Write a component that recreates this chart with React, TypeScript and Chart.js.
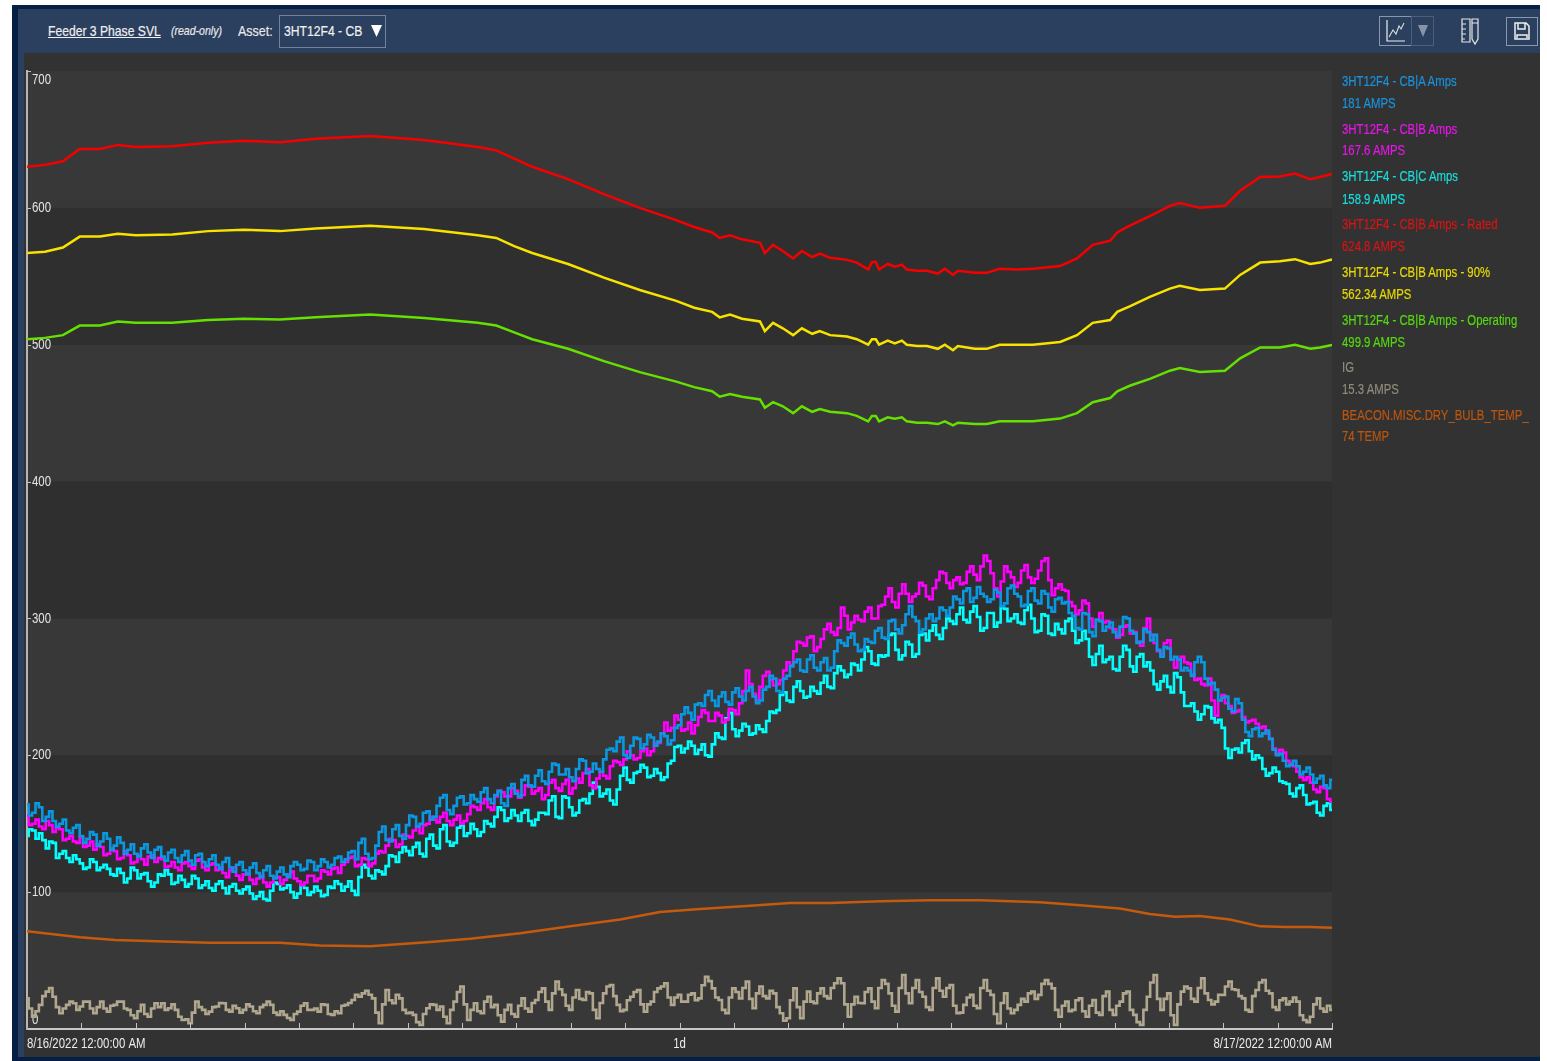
import React, { useEffect, useRef } from "react";
import { Chart, registerables } from "chart.js";

Chart.register(...registerables);

const xTickHours = [0, 12, 24];
const xTickLabels = ["8/16/2022 12:00:00 AM", "1d", "8/17/2022 12:00:00 AM"];
const yBands = [0, 100, 200, 300, 400, 500, 600, 700];

const limitHours = [0,.33,.66,.97,1.34,1.67,2,2.67,3.33,3.99,4.65,5.31,6.31,7.3,8.29,8.63,8.96,9.29,9.95,10.61,11.27,11.94,12.27,12.6,12.74,12.93,13.15,13.48,13.57,13.72,13.9,14.09,14.25,14.44,14.58,14.77,15.08,15.26,15.47,15.54,15.61,15.67,15.83,15.96,16.09,16.18,16.37,16.55,16.75,16.88,17.03,17.12,17.43,17.65,17.89,18.21,18.5,19,19.31,19.6,19.92,20.05,20.28,20.65,21.02,21.2,21.57,22.03,22.31,22.68,23.04,23.32,23.6,23.78,24];
const ratedAmps = [630,631.4,634,643,643,646,644.5,645,647.5,649,648,650.5,652.5,649.5,644.5,642,636,630,621,610,600,591,586,582,578,580,577,574.5,567,573,568.5,563,568.5,564,566.5,563.5,562,560,555,560.5,560.5,555,559,557,558.5,555,554,554,552,555.5,551,554,552.5,552.5,555.5,555,555.5,557.5,563,573,576,582,587,594,601.5,603.5,600,601.5,612.5,622.5,623,625,621,622.5,624.8];
const ninetyAmps = [567,568,571,579,579,581,580,580.5,583,584,583,585,587,584.5,580,578,572,567,559,549,540,532,527,524,520,522,519,517,510,516,512,507,512,508,510,507,506,504,500,504,504,500,503,501,503,500,499,499,497,500,496,499,497,497,500,500,500,502,507,516,518,524,528,535,541,543,540,541,551,560,561,562.5,559,560,562.34];
const operatingAmps = [504,505,507,514,514,517,516,516,518,519,518.5,520,522,519.5,516,514,509,504,497,488,480,473,469,466,462,464,462,460,454,458,455,450,455,451,453,451,450,448,444,448,448,444,447,446,447,444,443,443,442,444,441,443,442,442,444,444,444,446,450,458,461,466,470,475,481,483,480,481,490,498,498,500,497,498,499.9];

const tempHours = [0,.97,1.62,2.54,3.37,4.65,5.39,6.31,7.41,8.15,9.07,9.99,10.91,11.64,12.38,13.3,14.03,14.77,15.69,16.61,17.53,18.63,19.37,20.1,20.65,21.11,21.57,22.12,22.68,23.14,23.6,24];
const dryBulbTemp = [71.5,67,65,64,63,63,61,60.5,63.5,66,70,75,80,85.5,87.6,90,92,92,93.4,94,94,92.7,90.5,88,84,82,82.5,80,75,74.5,74.5,74];

const sampleStepHours = 0.125;
const phaseA = [164,158,162,155,152,150,145,147,141,139,142,137,139,134,136,131,128,132,129,131,126,129,125,127,123,127,122,124,120,122,118,120,116,118,114,116,112,115,113,119,120,117,122,119,122,120,126,124,130,136,128,125,144,138,146,141,149,155,150,159,155,169,160,163,170,165,168,173,168,171,165,176,172,182,178,185,181,188,193,186,184,190,196,188,190,197,205,210,200,207,212,208,213,210,214,211,222,235,226,238,244,240,243,239,246,243,247,243,240,250,256,246,258,268,262,270,264,268,262,276,282,286,281,277,283,291,286,298,292,295,309,298,292,303,300,306,308,314,320,312,323,316,314,319,311,324,316,310,322,311,318,305,315,312,302,292,303,287,298,294,290,294,300,289,283,290,288,272,278,272,262,262,268,268,252,248,242,234,241,226,214,220,216,212,200,196,193,192,188,186,183,178,182];
const phaseAHalf = [
  156,165,152,159,148,153,143,149,136,144,
  134,143,131,140,128,135,126,135,125,133,
  123,131,122,130,120,128,119,127,117,125,
  115,122,113,121,111,119,110,118,111,122,
  116,123,116,124,118,125,122,129,124,139,
  124,134,148,137,149,139,156,148,158,153,
  163,171,157,169,164,171,166,176,165,174,
  163,179,170,185,177,189,179,194,186,190,
  181,197,187,194,188,204,203,213,198,213,
  205,215,207,216,208,220,230,231,237,236,
  247,236,246,237,249,240,250,238,248,258,
  247,256,265,270,261,273,262,271,264,284,
  280,289,276,285,282,293,285,299,289,303,
  301,290,300,298,308,302,316,311,322,315,
  318,312,321,309,322,318,309,320,313,320,
  308,314,311,304,293,304,290,299,291,297,
  287,301,291,282,292,284,277,279,270,270,
  264,258,272,256,253,240,243,232,238,217,
  219,214,218,204,201,192,196,186,191,180,185,176,
];
const phaseB = [156,150,148,152,144,146,139,137,140,134,131,133,128,130,125,127,122,124,126,122,124,119,118,121,119,123,118,120,116,114,116,112,113,109,110,107,107,111,109,115,108,107,112,110,115,117,114,122,126,120,124,121,130,134,138,135,141,145,143,150,153,155,152,153,150,157,162,165,162,170,173,170,174,171,177,174,168,180,176,179,172,183,187,178,183,185,192,195,197,200,198,205,203,209,224,220,226,219,216,228,231,225,229,226,233,238,262,245,250,261,251,255,268,276,282,286,276,285,296,288,308,292,302,298,308,300,310,322,308,325,312,318,324,314,328,333,322,330,326,338,328,346,333,316,338,330,326,339,326,335,344,317,325,320,309,306,311,294,304,298,292,288,295,290,280,300,282,274,284,264,272,267,255,252,256,229,244,236,232,228,225,223,221,212,201,202,194,188,182,180,173,176,166];
const phaseBHalf = [
  149,153,146,149,147,138,141,136,133,137,
  135,127,132,124,130,121,127,120,127,125,
  118,122,116,122,117,124,116,121,118,111,
  118,109,114,106,112,104,111,106,113,110,
  105,112,108,116,113,118,120,125,119,125,
  119,128,129,139,133,142,140,148,149,155,
  151,158,149,156,152,163,160,168,160,174,
  170,176,169,178,172,176,171,182,174,182,
  176,180,190,176,188,183,196,193,203,197,
  203,200,209,216,218,229,218,224,222,233,
  225,231,224,234,230,247,252,240,258,255,
  252,262,266,283,280,287,279,292,290,293,
  302,297,299,305,300,309,316,312,318,318,
  316,326,316,322,334,326,328,325,334,332,
  338,342,322,327,334,323,335,330,329,342,
  328,322,321,312,303,313,300,299,297,293,
  286,294,289,283,293,288,276,282,270,270,
  268,259,256,251,240,240,238,231,233,224,
  226,220,216,205,204,196,192,184,184,175,177,168,
];
const phaseC = [141,145,143,132,136,128,125,127,121,118,122,118,117,112,114,110,116,113,108,107,112,113,107,109,106,110,105,103,106,103,104,101,102,99,97,95,101,106,103,100,99,103,100,101,98,103,106,104,101,111,118,110,115,119,126,129,130,133,128,139,134,146,137,136,149,143,146,144,150,155,160,154,156,158,152,153,158,167,155,170,162,158,168,172,177,172,167,175,191,180,188,191,185,187,184,196,207,205,207,204,200,208,213,227,219,218,221,216,219,225,231,244,240,250,247,243,247,253,250,260,262,259,266,270,276,266,272,288,277,273,281,274,289,291,288,293,298,303,299,305,301,293,304,297,307,300,297,306,300,291,302,288,292,298,291,284,285,266,280,270,263,272,277,261,274,268,252,254,250,260,246,236,232,230,235,224,220,198,205,209,203,200,190,187,188,180,172,176,171,165,158,163,160];
const phaseCHalf = [
  146,139,138,137,125,130,122,124,117,124,
  116,120,113,117,107,118,110,114,104,113,
  116,106,112,104,112,103,108,101,108,99,
  106,99,104,95,100,94,107,102,105,96,
  105,98,104,97,104,108,101,108,98,120,
  112,116,113,127,122,133,127,136,126,142,
  132,149,134,147,141,150,141,152,148,162,
  152,160,152,160,149,158,157,170,154,169,
  156,167,165,180,170,175,164,185,182,187,
  193,184,190,182,194,206,202,210,201,208,
  199,216,212,231,214,223,215,222,217,232,
  233,246,239,254,242,250,245,258,249,265,
  257,267,262,279,267,273,273,289,270,283,
  272,288,284,295,285,300,296,308,297,309,
  291,304,294,308,298,303,296,310,290,303,
  289,296,289,300,282,291,272,274,268,272,
  262,280,265,272,265,262,248,258,246,257,
  236,238,226,236,227,226,205,204,202,211,
  197,198,185,191,181,179,170,178,164,166,156,165,
];
const groundAmps = [22.4,9,17.6,27.3,23.6,11.5,17.6,18.8,16.4,20,11.5,20,12.7,17.6,20,14,7.9,17.6,9,18.8,18.8,15.2,14,6.6,4.2,20,14,12.7,16.4,18.8,12.7,15.2,14,16.4,11.5,17.6,17.6,10.3,10.3,6.6,12.7,18.8,14,12.7,17.6,10.3,11.5,17.6,21.2,23.6,28,22.4,4.2,28.5,18.8,22.4,11.5,10.3,3,15.2,17.6,16.4,4.2,20,31,6.6,18.8,11.5,23.6,17.6,5.4,17.6,9,22.4,12.7,21.2,29.7,14,34.6,24.9,14,28.5,21.2,26,7.9,26,32.2,17.6,14,23.6,28.5,12.7,20,29.7,33.4,17.6,24.9,20,26,22.4,38.2,29.7,21.2,11.5,29.7,22.4,34.6,15.2,31,22.4,26,11.5,7.9,29.7,7.9,27.3,18.8,29.7,22.4,33.4,33.4,9,23.6,18.8,29.7,15.2,35.8,26,12.7,39.5,18.8,35.8,23.6,14,37,23.6,32.2,11.5,17.6,24.9,15.2,35.8,24.9,4.2,26,11.5,17.6,20,27.3,24.9,35.8,29.7,9,20,14,22.4,9,21.2,10.3,27.3,10.3,20,27.3,10.3,3,23.6,39.5,14,26,3,27.3,29.7,20,37,21.2,20,24.9,34.6,28.5,22.4,12.7,28.5,35.8,26,14,22.4,20,20,6.6,9,22.4,12.7,14];
const groundAmpsHalf = [
  15,13,24,30,16,15,20,14,20,15,
  16,15,17,20,15,10,13,11,15,16,
  14,18,9,7,12,16,11,16,19,14,
  17,12,18,13,16,20,12,13,8,11,
  17,14,15,18,11,13,17,19,25,26,
  25,12,18,21,25,14,12,5,11,18,
  14,9,14,27,18,14,13,20,16,10,
  14,11,17,15,19,27,20,26,29,17,
  23,22,27,14,19,31,24,13,21,27,
  18,18,27,31,23,23,20,25,21,32,
  35,23,14,23,27,30,22,26,24,28,
  16,6,21,16,20,20,26,24,30,37,
  18,18,19,27,20,30,33,17,30,26,
  30,27,16,30,28,30,17,12,23,17,
  30,28,11,19,15,14,22,26,22,33,
  33,14,17,13,21,13,17,12,24,14,
  17,26,14,5,14,34,22,22,10,18,
  31,22,30,26,18,25,31,29,24,14,
  24,34,28,16,21,18,23,10,5,18,15,17,
];

const legendNames = ["3HT12F4 - CB|A Amps","3HT12F4 - CB|B Amps","3HT12F4 - CB|C Amps","3HT12F4 - CB|B Amps - Rated","3HT12F4 - CB|B Amps - 90%","3HT12F4 - CB|B Amps - Operating","IG","BEACON.MISC.DRY_BULB_TEMP_"];
const legendValues = ["181 AMPS","167.6 AMPS","158.9 AMPS","624.8 AMPS","562.34 AMPS","499.9 AMPS","15.3 AMPS","74 TEMP"];
const legendColors = ["#1a93dc","#e815e8","#18dede","#d81414","#e8da00","#55d810","#8f8b7c","#bb5610"];
const legendTops = [81,129,176,224,272,320,367,415];
const legendBottoms = [103,150,199,246,294,342,389,436];

const FONT = '"Liberation Sans", Arial, sans-serif';
const CANVAS_TEXT_SQUEEZE = 0.76;

const sampled = (values: number[], halves: number[]) =>
  [
    ...values.map((y, i) => ({ x: i * sampleStepHours, y })),
    ...halves.map((y, i) => ({ x: (i + 0.5) * sampleStepHours, y })),
  ].sort((a, b) => a.x - b.x);
const paired = (hours: number[], values: number[]) => values.map((y, i) => ({ x: hours[i], y }));

const frameworkPlugin = {
  id: "framework",
  beforeDraw(chart: any) {
    const { ctx, chartArea: a, scales } = chart;
    if (!ctx.__squeezed) {
      const original = ctx.fillText.bind(ctx);
      ctx.fillText = (t: string, x: number, y: number) => original(t, x, y, Math.max(1, ctx.measureText(t).width * CANVAS_TEXT_SQUEEZE));
      ctx.__squeezed = true;
    }
    const y = scales.y;
    ctx.save();
    for (let i = 0; i < yBands.length - 1; i++) {
      ctx.fillStyle = i % 2 === 0 ? "#383838" : "#2f2f2f";
      const top = y.getPixelForValue(yBands[i + 1]);
      const bottom = y.getPixelForValue(yBands[i]);
      ctx.fillRect(a.left, top, a.right - a.left, bottom - top);
    }
    ctx.restore();
  },
  afterDraw(chart: any) {
    const { ctx, chartArea: a, scales } = chart;
    ctx.save();
    ctx.strokeStyle = "#c4c4c4";
    ctx.lineWidth = 1;
    scales.x.ticks.forEach((t: any) => {
      const px = Math.round(scales.x.getPixelForValue(t.value)) + 0.5;
      if (t.value === 0) return;
      ctx.beginPath();
      ctx.moveTo(px, a.bottom - 6);
      ctx.lineTo(px, a.bottom);
      ctx.stroke();
    });
    scales.y.ticks.forEach((t: any) => {
      if (t.value === 0) return;
      const py = Math.round(scales.y.getPixelForValue(t.value)) + 0.5;
      ctx.beginPath();
      ctx.moveTo(a.left, py);
      ctx.lineTo(a.left + 4, py);
      ctx.stroke();
    });
    ctx.restore();
  },
};

export default function App() {
  const ref = useRef<HTMLCanvasElement>(null);
  useEffect(() => {
    const line = (label: string, data: any[], color: string, width: number, stepped: any = false) => ({
      label, data, borderColor: color, backgroundColor: color, borderWidth: width,
      pointRadius: 0, tension: 0, stepped, borderJoinStyle: "miter" as const,
    });
    const chart = new Chart(ref.current!, {
      type: "line",
      plugins: [frameworkPlugin],
      data: {
        datasets: [
          line(legendNames[0], sampled(phaseA, phaseAHalf), "#0a98e2", 2.6, "middle"),
          line(legendNames[1], sampled(phaseB, phaseBHalf), "#ff00ff", 2.6, "middle"),
          line(legendNames[2], sampled(phaseC, phaseCHalf), "#00ffff", 2.6, "middle"),
          line(legendNames[3], paired(limitHours, ratedAmps), "#f50000", 2.5),
          line(legendNames[4], paired(limitHours, ninetyAmps), "#f7e200", 2.5),
          line(legendNames[5], paired(limitHours, operatingAmps), "#66e000", 2.5),
          line(legendNames[6], sampled(groundAmps, groundAmpsHalf), "#b0a78e", 2.6, "middle"),
          line(legendNames[7], paired(tempHours, dryBulbTemp), "#c55a0c", 2.5),
        ],
      },
      options: {
        animation: false,
        responsive: false,
        devicePixelRatio: 1,
        parsing: false,
        normalized: true,
        layout: { padding: { left: 27, top: 71, right: 215, bottom: 0 } },
        plugins: { legend: { display: false }, tooltip: { enabled: false } },
        scales: {
          x: {
            type: "linear", min: 0, max: 24,
            grid: { display: false, drawTicks: false },
            border: { display: true, color: "#c8c8c8", width: 2 },
            afterFit: (s: any) => { s.height = 32; },
            ticks: {
              stepSize: 1, autoSkip: false, maxRotation: 0, minRotation: 0, align: "inner", padding: 6,
              color: "#ececec", font: { family: FONT, size: 15 },
              callback: (v: any) => { const i = xTickHours.indexOf(Number(v)); return i >= 0 ? xTickLabels[i] : ""; },
            },
          },
          y: {
            type: "linear", min: 0, max: 700,
            grid: { display: false, drawTicks: false },
            border: { display: true, color: "#b5b5b5", width: 2 },
            afterFit: (s: any) => { s.width = 0; },
            ticks: {
              mirror: true, stepSize: 100, padding: 5,
              color: "#e6e6e6", font: { family: FONT, size: 15 },
              callback: (v: any) => (v === 700 ? ["", "700"] : v === 0 ? ["0", ""] : String(v)),
            },
          },
        },
      },
    } as any);
    return () => chart.destroy();
  }, []);

  const abs = (left: number, top: number, w: number, h: number, bg: string): React.CSSProperties => ({ position: "absolute", left, top, width: w, height: h, background: bg });
  const text = (left: number, cy: number, color: string, size = 15, squeeze = 0.757): React.CSSProperties => ({ position: "absolute", left, top: cy - 10, height: 20, lineHeight: "20px", color, fontFamily: FONT, fontSize: size, whiteSpace: "nowrap", transform: `scaleX(${squeeze})`, transformOrigin: "left center", WebkitTextStroke: "0.2px" });

  return (
    <div style={{ position: "absolute", left: 0, top: 0, width: 1547, height: 1061, background: "#fff", overflow: "hidden" }}>
      <div style={abs(12, 5, 1528, 1056, "#061f45")} />
      <div style={abs(18, 9, 1522, 1048, "#2b3f5f")} />
      <div style={abs(24, 53, 1516, 1004, "#323232")} />

      <div style={{ ...text(48, 31, "#f0f0f0", 15, 0.81), textDecoration: "underline" }}>Feeder 3 Phase SVL</div>
      <div style={{ ...text(171, 31, "#e8e8e8", 13, 0.81), fontStyle: "italic" }}>(read-only)</div>
      <div style={text(238, 31, "#e8e8e8", 15, 0.83)}>Asset:</div>
      <div style={{ position: "absolute", left: 279, top: 15, width: 105, height: 31, border: "1px solid #73819a", boxSizing: "content-box" }} />
      <div style={text(284, 31, "#f0f0f0", 15, 0.81)}>3HT12F4 - CB</div>
      <svg style={{ position: "absolute", left: 1378, top: 14, width: 165, height: 34 }} viewBox="0 0 165 34">
        <rect x="1.5" y="2.5" width="32" height="29" fill="none" stroke="#8a97ad" />
        <rect x="33.5" y="2.5" width="22" height="29" fill="none" stroke="#4d5e7c" />
        <path d="M9 6V27H27" fill="none" stroke="#eee" strokeWidth="1.2" />
        <path d="M11 23l4-7 3 4 3-8 2 3 3-6" fill="none" stroke="#ddd" strokeWidth="1.1" />
        <path d="M40 11h10l-5 12z" fill="#8793a8" />
        <path d="M84 5h8v23h-8zM84 10h4M84 15h4M84 20h4M84 25h3M94 5h6v20l-3 5-3-5zM94 9h6" fill="none" stroke="#e8e8e8" strokeWidth="1.2" />
        <rect x="128.5" y="3.5" width="31" height="28" fill="none" stroke="#8a97ad" />
        <path d="M137 9h11l3 3v13h-14zM140 9v6h7V9M139 24v-3h10v3" fill="none" stroke="#f0f0f0" strokeWidth="1.5" />
      </svg>
      <svg style={{ position: "absolute", left: 370, top: 24, width: 13, height: 14 }} viewBox="0 0 13 14">
        <path d="M1 1h11L6.5 13z" fill="#fff" />
      </svg>

      <canvas ref={ref} width={1547} height={1061} style={{ position: "absolute", left: 0, top: 0, width: 1547, height: 1061 }} />

      {legendNames.map((n, i) => (
        <React.Fragment key={n}>
          <div style={text(1342, legendTops[i], legendColors[i])}>{n}</div>
          <div style={text(1342, legendBottoms[i], legendColors[i])}>{legendValues[i]}</div>
        </React.Fragment>
      ))}
    </div>
  );
}
